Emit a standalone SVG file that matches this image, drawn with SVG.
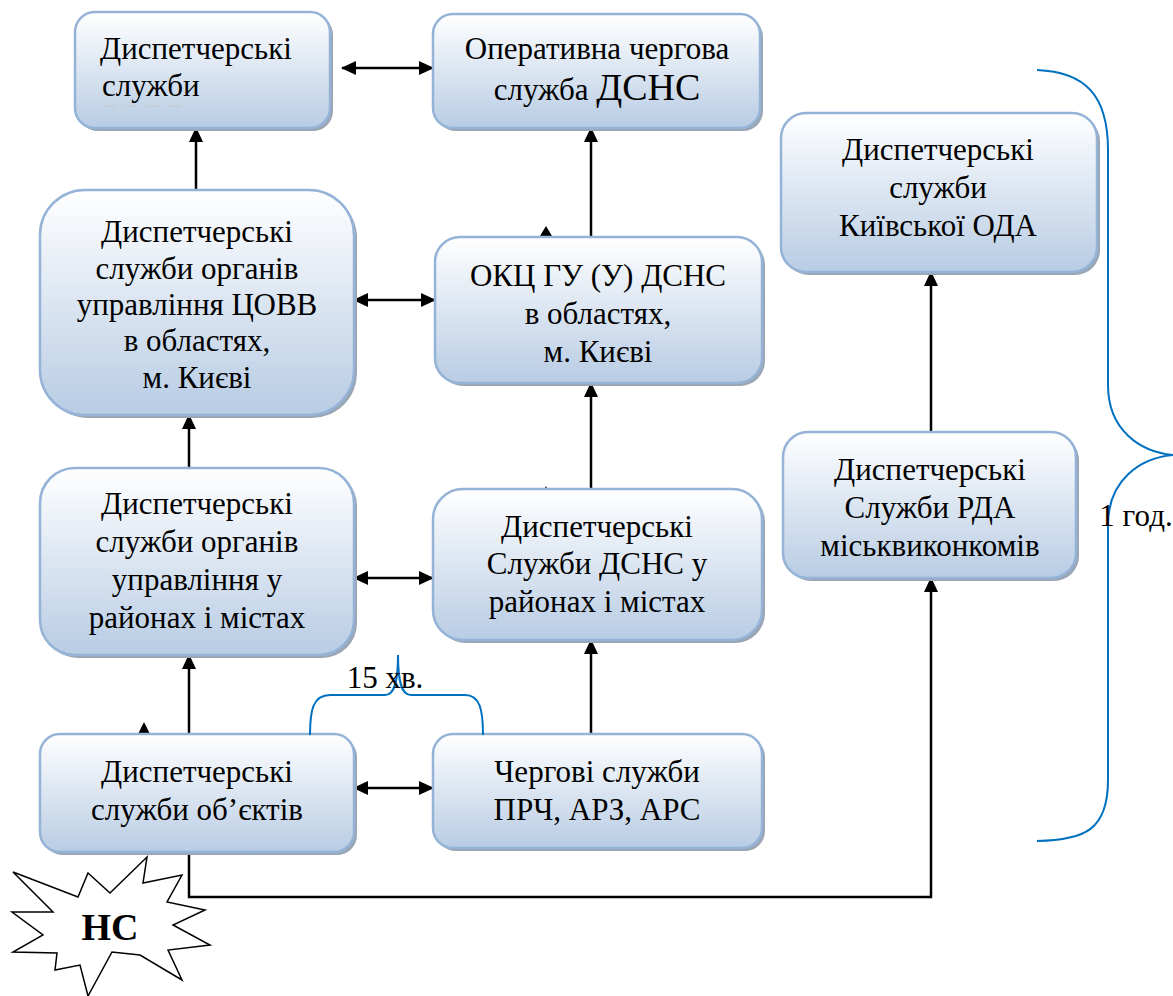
<svg xmlns="http://www.w3.org/2000/svg" width="1173" height="996" viewBox="0 0 1173 996">
<style>
.box{fill:url(#g);stroke:#95b3d7;stroke-width:2.5}
.sh{fill:#9aa6b4}
.t{font-family:"Liberation Serif","Liberation Sans",Arial,sans-serif;font-size:31px;fill:#000;text-anchor:middle}
.c{stroke:#000;stroke-width:2.5;fill:none}
.br{stroke:#0070c0;stroke-width:2;fill:none}
</style>
<defs>
<linearGradient id="g" x1="0" y1="0" x2="0" y2="1">
<stop offset="0" stop-color="#ffffff"/>
<stop offset="1" stop-color="#b8cce4"/>
</linearGradient>
<marker id="a" markerUnits="userSpaceOnUse" markerWidth="15" markerHeight="14" refX="14" refY="7" orient="auto-start-reverse">
<path d="M0,0 L15,7 L0,14 z" fill="#000"/>
</marker>
</defs>

<g id="connectors">
<line class="c" x1="342" y1="68" x2="433" y2="68" marker-start="url(#a)" marker-end="url(#a)"/>
<line class="c" x1="196" y1="190" x2="196" y2="128" marker-end="url(#a)"/>
<line class="c" x1="591" y1="237" x2="591" y2="128" marker-end="url(#a)"/>
<line class="c" x1="354" y1="300" x2="435" y2="300" marker-start="url(#a)" marker-end="url(#a)"/>
<line class="c" x1="189" y1="468" x2="189" y2="415" marker-end="url(#a)"/>
<line class="c" x1="591" y1="497" x2="591" y2="383" marker-end="url(#a)"/>
<line class="c" x1="354" y1="578" x2="433" y2="578" marker-start="url(#a)" marker-end="url(#a)"/>
<line class="c" x1="189" y1="738" x2="189" y2="655" marker-end="url(#a)"/>
<line class="c" x1="591" y1="734" x2="591" y2="640" marker-end="url(#a)"/>
<line class="c" x1="354" y1="788" x2="433" y2="788" marker-start="url(#a)" marker-end="url(#a)"/>
<line class="c" x1="931" y1="432" x2="931" y2="272" marker-end="url(#a)"/>
<polyline class="c" points="189,852 189,897 931,897 931,578" stroke-width="2" marker-end="url(#a)"/>
<path d="M540,236 L546,226 L552,236 z" fill="#000"/>
<path d="M544,490 L546,486 L548,490 z" fill="#000"/>
<path d="M138,734 L144,722 L150,734 z" fill="#000"/>
</g>

<g id="box1">
<rect class="sh" x="78" y="15" width="255" height="116" rx="20"/>
<rect class="box" x="75" y="12" width="255" height="116" rx="20"/>
<text class="t" x="100" y="59" style="text-anchor:start">Диспетчерські</text>
<text class="t" x="102" y="96" style="text-anchor:start">служби</text>
<line x1="103" y1="106" x2="192" y2="106" stroke="#c8ccd2" stroke-width="1.5" stroke-dasharray="12,10"/>
</g>

<g id="box2">
<rect class="sh" x="436" y="17" width="327" height="114" rx="20"/>
<rect class="box" x="433" y="14" width="327" height="114" rx="20"/>
<text class="t" x="597" y="59">Оперативна чергова</text>
<text class="t" x="597" y="100">служба <tspan style="font-size:38px">ДСНС</tspan></text>
</g>

<g id="box3">
<rect class="sh" x="784" y="116" width="316" height="159" rx="25"/>
<rect class="box" x="781" y="113" width="316" height="159" rx="25"/>
<text class="t" x="938" y="160">Диспетчерські</text>
<text class="t" x="938" y="198">служби</text>
<text class="t" x="938" y="236">Київської ОДА</text>
</g>

<g id="box4">
<rect class="sh" x="43" y="193" width="314" height="225" rx="45"/>
<rect class="box" x="40" y="190" width="314" height="225" rx="45"/>
<text class="t" x="197" y="242">Диспетчерські</text>
<text class="t" x="197" y="279">служби органів</text>
<text class="t" x="197" y="315">управління ЦОВВ</text>
<text class="t" x="197" y="351">в областях,</text>
<text class="t" x="197" y="388">м. Києві</text>
</g>

<g id="box5">
<rect class="sh" x="438" y="240" width="327" height="146" rx="25"/>
<rect class="box" x="435" y="237" width="327" height="146" rx="25"/>
<text class="t" x="598" y="286">ОКЦ ГУ (У) ДСНС</text>
<text class="t" x="598" y="324">в областях,</text>
<text class="t" x="598" y="362">м. Києві</text>
</g>

<g id="box6">
<rect class="sh" x="786" y="435" width="293" height="146" rx="25"/>
<rect class="box" x="783" y="432" width="293" height="146" rx="25"/>
<text class="t" x="930" y="480">Диспетчерські</text>
<text class="t" x="930" y="518">Служби РДА</text>
<text class="t" x="930" y="556">міськвиконкомів</text>
</g>

<g id="box7">
<rect class="sh" x="43" y="471" width="314" height="187" rx="35"/>
<rect class="box" x="40" y="468" width="314" height="187" rx="35"/>
<text class="t" x="197" y="514">Диспетчерські</text>
<text class="t" x="197" y="552">служби органів</text>
<text class="t" x="197" y="590">управління у</text>
<text class="t" x="197" y="628">районах і містах</text>
</g>

<g id="box8">
<rect class="sh" x="436" y="492" width="329" height="151" rx="30"/>
<rect class="box" x="433" y="489" width="329" height="151" rx="30"/>
<text class="t" x="597" y="537">Диспетчерські</text>
<text class="t" x="597" y="574">Служби ДСНС у</text>
<text class="t" x="597" y="612">районах і містах</text>
</g>

<g id="box9">
<rect class="sh" x="43" y="737" width="314" height="118" rx="20"/>
<rect class="box" x="40" y="734" width="314" height="118" rx="20"/>
<text class="t" x="197" y="782">Диспетчерські</text>
<text class="t" x="197" y="820">служби об’єктів</text>
</g>

<g id="box10">
<rect class="sh" x="436" y="737" width="329" height="114" rx="20"/>
<rect class="box" x="433" y="734" width="329" height="114" rx="20"/>
<text class="t" x="597" y="782">Чергові служби</text>
<text class="t" x="597" y="820">ПРЧ, АРЗ, АРС</text>
</g>

<g id="brace15">
<path class="br" d="M310,735 C310,710 313,695 330,695 L385,695 C395,695 398,680 398,655 C398,680 401,695 411,695 L465,695 C480,695 483,710 483,735"/>
<text class="t" x="385" y="688">15 хв.</text>
</g>

<g id="brace1h">
<path class="br" d="M1037,70 C1085,72 1108,95 1108,150 L1108,385 C1108,430 1140,452 1173,455 C1140,458 1108,480 1108,525 L1108,780 C1108,830 1085,840 1037,841"/>
<text class="t" x="1136" y="526">1 год.</text>
</g>

<g id="ns">
<polygon points="13,872 78,897 88,873 110,893 147,857 143,883 182,875 167,902 205,910 173,925 210,945 168,950 182,980 140,955 112,952 88,996 80,965 55,970 57,953 13,952 43,935 12,912 53,912" fill="#fff" stroke="#000" stroke-width="1.5"/>
<text class="t" x="110" y="940" style="font-size:38px;font-weight:bold">НС</text>
</g>
</svg>
